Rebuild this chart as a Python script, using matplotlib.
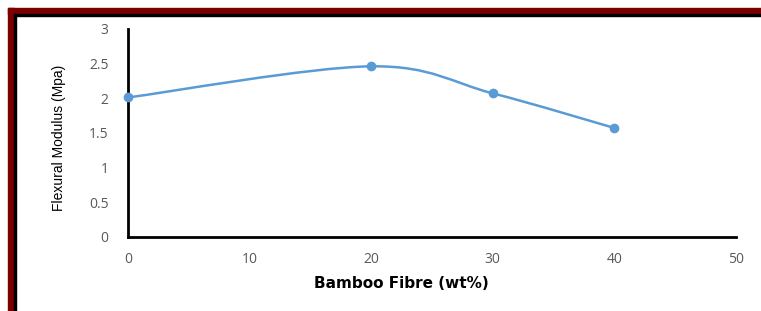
import numpy as np
import matplotlib
matplotlib.use("Agg")
import matplotlib.pyplot as plt
from matplotlib.path import Path
from matplotlib.patches import PathPatch, Rectangle

# --- data -----------------------------------------------------------------
fibre_wt = [0, 20, 30, 40]            # bamboo fibre content [wt%]
modulus  = [2.01, 2.46, 2.07, 1.57]   # flexural modulus [Mpa]
x_ticks  = [0, 10, 20, 30, 40, 50]
y_ticks  = [0, 0.5, 1, 1.5, 2, 2.5, 3]
y_labels = ["0", "0.5", "1", "1.5", "2", "2.5", "3"]

BLUE, GREY = "#5B9BD5", "#595959"
plt.rcParams['font.family'] = ['Open Sans', 'DejaVu Sans']

W, H = 761.0, 311.0
fig = plt.figure(figsize=(7.61, 3.11), dpi=100)
ax = fig.add_axes([0.168, 0.239, 0.799, 0.668])

# smooth line (Excel-style) : Catmull-Rom -> cubic Bezier through the points
P = np.column_stack([fibre_wt, modulus]).astype(float)
verts, codes = [tuple(P[0])], [Path.MOVETO]
for i in range(len(P) - 1):
    p0 = P[max(i - 1, 0)]; p1 = P[i]; p2 = P[i + 1]; p3 = P[min(i + 2, len(P) - 1)]
    c1 = p1 + (p2 - p0) / 6.0
    c2 = p2 - (p3 - p1) / 6.0
    verts += [tuple(c1), tuple(c2), tuple(p2)]
    codes += [Path.CURVE4] * 3
ax.add_patch(PathPatch(Path(verts, codes), fc="none", ec=BLUE, lw=1.8, zorder=3))
ax.plot(fibre_wt, modulus, ls="none", marker="o", ms=6, color=BLUE, zorder=4,
        clip_on=False)

ax.set_xlim(0, 50); ax.set_ylim(0, 3)
ax.set_xticks(x_ticks); ax.set_yticks(y_ticks)
ax.set_yticklabels(y_labels)
ax.tick_params(length=0, labelsize=10, labelcolor=GREY)
ax.tick_params(axis="y", pad=14); ax.tick_params(axis="x", pad=11)
for s in ("top", "right"):
    ax.spines[s].set_visible(False)
for s in ("left", "bottom"):
    ax.spines[s].set_linewidth(2.0); ax.spines[s].set_color("black")

# axis titles placed where the reference has them
fig.text(401 / W, 1 - 283 / H, "Bamboo Fibre (wt%)", fontsize=11, fontweight="bold",
         family=["DejaVu Sans"], ha="center", va="center")
fig.text(59 / W, 1 - 138 / H, "Flexural Modulus (Mpa)", fontsize=10, rotation=90,
         family=["Liberation Sans Narrow", "Liberation Sans", "DejaVu Sans"],
         ha="center", va="center")

# dark red frame (top + left) with thin black inner line
fig.patches += [
    Rectangle((8 / W, 0), 6 / W, 1 - 8 / H, transform=fig.transFigure, color="#7B0000"),
    Rectangle((8 / W, 1 - 14 / H), 1, 6 / H, transform=fig.transFigure, color="#7B0000"),
    Rectangle((14 / W, 0), 1.6 / W, 1 - 14 / H, transform=fig.transFigure, color="black"),
    Rectangle((14 / W, 1 - 15.6 / H), 1, 1.6 / H, transform=fig.transFigure, color="black"),
]

fig.savefig("out.png", dpi=100)
